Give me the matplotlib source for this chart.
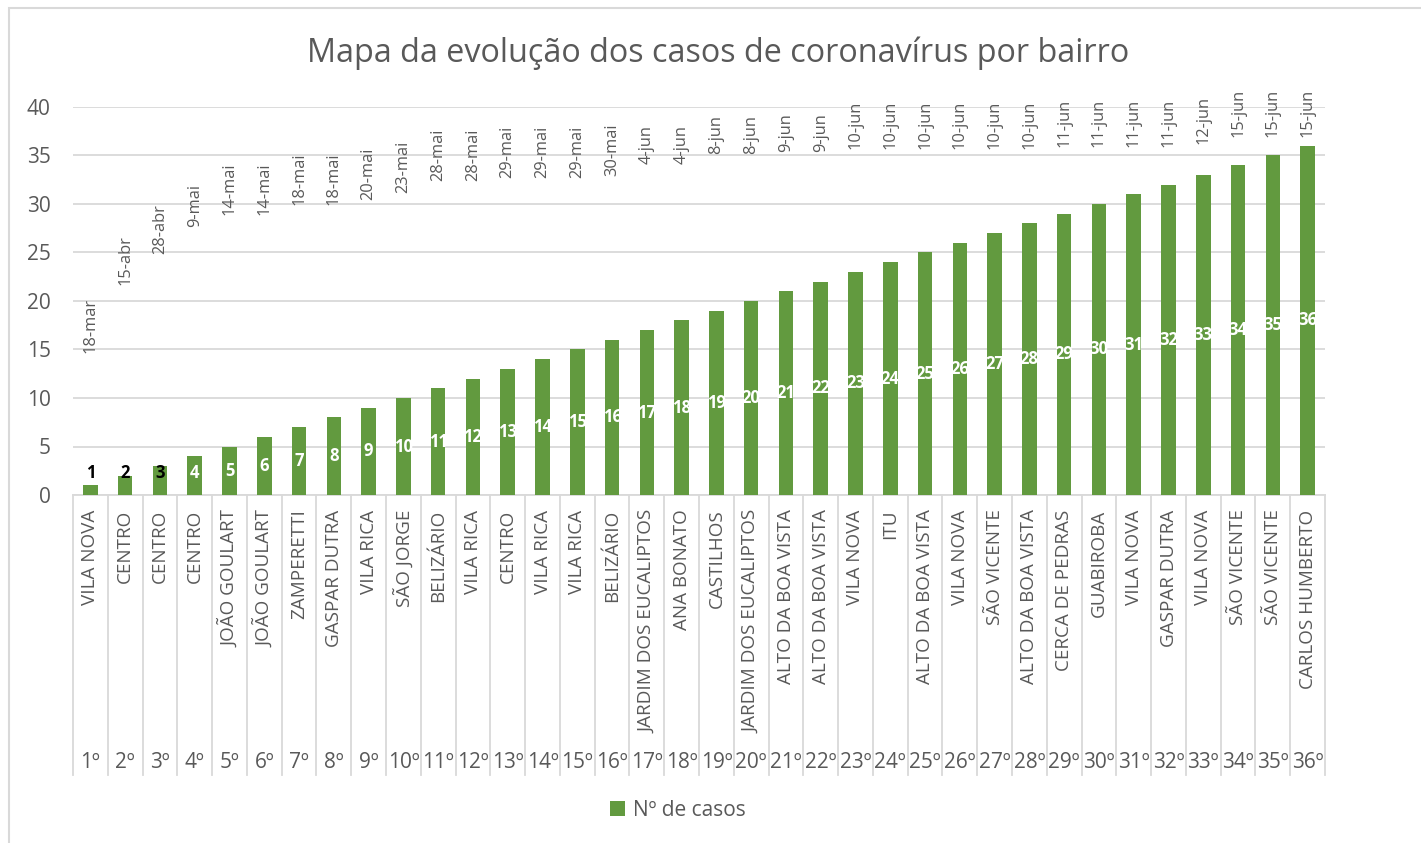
import matplotlib
matplotlib.use('Agg')
import matplotlib.pyplot as plt
import matplotlib.transforms as mtransforms
from matplotlib.lines import Line2D
from matplotlib.patches import Rectangle
from datetime import date

plt.rcParams['font.family'] = ['Open Sans', 'DejaVu Sans']

title = "Mapa da evolução dos casos de coronavírus por bairro"
series_name = "Nº de casos"

bairros = ["VILA NOVA", "CENTRO", "CENTRO", "CENTRO", "JOÃO GOULART", "JOÃO GOULART",
           "ZAMPERETTI", "GASPAR DUTRA", "VILA RICA", "SÃO JORGE", "BELIZÁRIO", "VILA RICA",
           "CENTRO", "VILA RICA", "VILA RICA", "BELIZÁRIO", "JARDIM DOS EUCALIPTOS", "ANA BONATO",
           "CASTILHOS", "JARDIM DOS EUCALIPTOS", "ALTO DA BOA VISTA", "ALTO DA BOA VISTA",
           "VILA NOVA", "ITU", "ALTO DA BOA VISTA", "VILA NOVA", "SÃO VICENTE", "ALTO DA BOA VISTA",
           "CERCA DE PEDRAS", "GUABIROBA", "VILA NOVA", "GASPAR DUTRA", "VILA NOVA", "SÃO VICENTE",
           "SÃO VICENTE", "CARLOS HUMBERTO"]

ordinais = ["1º", "2º", "3º", "4º", "5º", "6º", "7º", "8º", "9º", "10º", "11º", "12º",
            "13º", "14º", "15º", "16º", "17º", "18º", "19º", "20º", "21º", "22º", "23º", "24º",
            "25º", "26º", "27º", "28º", "29º", "30º", "31º", "32º", "33º", "34º", "35º", "36º"]

casos = [1, 2, 3, 4, 5, 6, 7, 8, 9, 10, 11, 12, 13, 14, 15, 16, 17, 18,
         19, 20, 21, 22, 23, 24, 25, 26, 27, 28, 29, 30, 31, 32, 33, 34, 35, 36]

datas = ["18-mar", "15-abr", "28-abr", "9-mai", "14-mai", "14-mai", "18-mai", "18-mai",
         "20-mai", "23-mai", "28-mai", "28-mai", "29-mai", "29-mai", "29-mai", "30-mai",
         "4-jun", "4-jun", "8-jun", "8-jun", "9-jun", "9-jun", "10-jun", "10-jun",
         "10-jun", "10-jun", "10-jun", "10-jun", "11-jun", "11-jun", "11-jun", "11-jun",
         "12-jun", "15-jun", "15-jun", "15-jun"]

meses = {"mar": 3, "abr": 4, "mai": 5, "jun": 6}
ano = 2020

def excel_serial(s):
    d, m = s.split("-")
    return (date(ano, meses[m], int(d)) - date(1899, 12, 30)).days

serials = [excel_serial(s) for s in datas]

GREEN = "#629a3f"
GRAY_TXT = "#595959"
GRID = "#d9d9d9"

W, H = 1421, 843
fig = plt.figure(figsize=(W / 100, H / 100), dpi=100)
fig.patch.set_facecolor("white")

ax = fig.add_axes([73 / W, 1 - 495 / H, (1325 - 73) / W, (495 - 107) / H])
x = list(range(len(casos)))
bars = ax.bar(x, casos, width=0.42, color=GREEN, zorder=3)

ax.set_xlim(-0.5, len(casos) - 0.5)
ax.set_ylim(0, 40)
ax.set_yticks(range(0, 41, 5))
ax.tick_params(axis='y', length=0, pad=16, labelsize=15, labelcolor=GRAY_TXT)
ax.set_xticks(x)
ax.set_xticklabels(bairros, rotation=90, fontsize=13.6, color=GRAY_TXT)
ax.tick_params(axis='x', length=0, pad=10.5)
ax.grid(axis='y', color=GRID, linewidth=1.3, zorder=0)
ax.set_axisbelow(True)
for s in ["top", "right", "left"]:
    ax.spines[s].set_visible(False)
ax.spines["bottom"].set_color(GRID)
ax.spines["bottom"].set_linewidth(1.3)

# value labels inside bars
for xi, v in zip(x, casos):
    col = "black" if v <= 3 else "white"
    ax.text(xi, max(v / 2, 2.27), str(v), ha='center', va='center',
            fontsize=12, fontweight='bold', color=col, zorder=4)

# dates on secondary (hidden) axis
ax2 = ax.twinx()
ax2.set_ylim(43850, 44010)
ax2.set_axis_off()
for xi, s, lab in zip(x, serials, datas):
    ax2.annotate(lab, (xi, s), xytext=(0, 1), textcoords='offset points',
                 rotation=90, ha='center', va='bottom', color=GRAY_TXT, fontsize=11.8)

# multi-level category separators and ordinal labels
blend = mtransforms.blended_transform_factory(ax.transData, fig.transFigure)
for b in range(len(casos) + 1):
    fig.add_artist(Line2D([b - 0.5, b - 0.5], [1 - 495 / H, 1 - 775 / H],
                          transform=blend, color=GRID, linewidth=1.3))
for xi, o in zip(x, ordinais):
    fig.text(xi, 1 - 762 / H, o, transform=blend, ha='center', va='center',
             fontsize=15, color=GRAY_TXT)

fig.text(718 / W, 1 - 53 / H, title, ha='center', va='center', fontsize=23.3, color=GRAY_TXT)

fig.legend(handles=[bars], labels=[series_name], loc='center',
           bbox_to_anchor=(678 / W, 1 - 810 / H), frameon=False, fontsize=15,
           handlelength=0.7, handleheight=0.7, handletextpad=0.4, labelcolor=GRAY_TXT)

fig.add_artist(Rectangle((9 / W, -0.05), 1.1, 1 - 8 / H + 0.05, transform=fig.transFigure,
                         fill=False, edgecolor=GRID, linewidth=1.5))

fig.savefig("out.png", dpi=100)
